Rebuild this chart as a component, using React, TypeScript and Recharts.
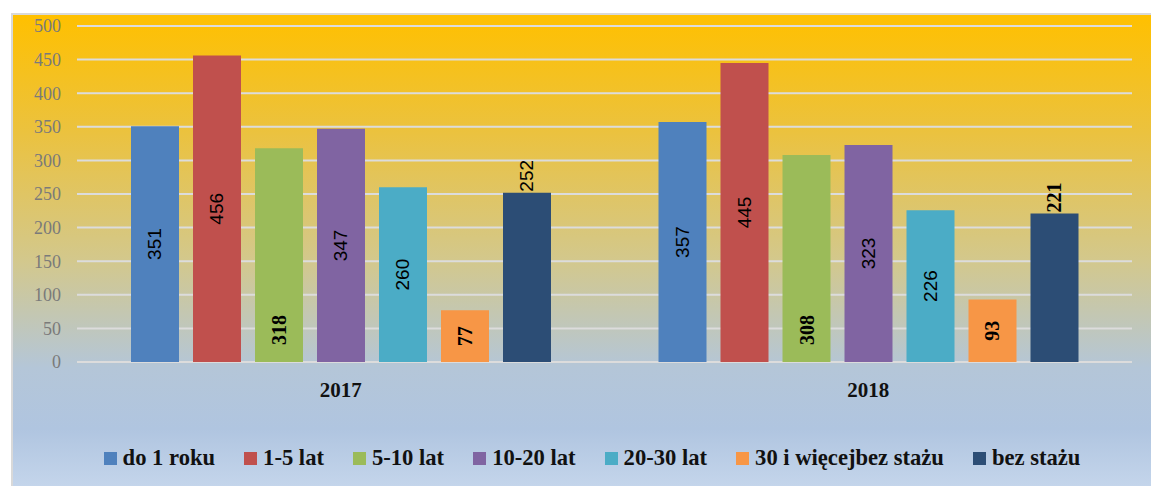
import { BarChart, Bar, XAxis, YAxis, CartesianGrid, Legend, LabelList } from "recharts";

const years = ["2017", "2018"];
const doRoku = [351, 357];
const lat1_5 = [456, 445];
const lat5_10 = [318, 308];
const lat10_20 = [347, 323];
const lat20_30 = [260, 226];
const lat30 = [77, 93];
const bezStazu = [252, 221];
const yTicks = [0, 50, 100, 150, 200, 250, 300, 350, 400, 450, 500];

const series = [
  { key: "a", name: "do 1 roku", values: doRoku, color: "#4F81BD" },
  { key: "b", name: "1-5 lat", values: lat1_5, color: "#C0504D" },
  { key: "c", name: "5-10 lat", values: lat5_10, color: "#9BBB59" },
  { key: "d", name: "10-20 lat", values: lat10_20, color: "#8064A2" },
  { key: "e", name: "20-30 lat", values: lat20_30, color: "#4BACC6" },
  { key: "f", name: "30 i więcejbez stażu", values: lat30, color: "#F79646" },
  { key: "g", name: "bez stażu", values: bezStazu, color: "#2C4D75" },
];

const data = years.map((y, i) => {
  const row: any = { year: y };
  series.forEach((s) => (row[s.key] = s.values[i]));
  return row;
});

// where each series puts its value label, and which face it uses per year
const labelLook: Record<string, { pos: "center" | "bottom" | "top"; serif: boolean[] }> = {
  a: { pos: "center", serif: [false, false] },
  b: { pos: "center", serif: [false, false] },
  c: { pos: "bottom", serif: [true, true] },
  d: { pos: "center", serif: [false, false] },
  e: { pos: "center", serif: [false, false] },
  f: { pos: "center", serif: [true, true] },
  g: { pos: "top", serif: [false, true] },
};

const SERIF = "Liberation Serif";
const SANS = "Liberation Sans";

function makeLabel(key: string) {
  return (props: any) => {
    const { x, y, width, height, value, index } = props;
    const look = labelLook[key];
    const serif = look.serif[index];
    const cx = x + width / 2;
    let cy = y + height / 2;
    let anchor = "middle";
    if (look.pos === "bottom") cy = y + height - 32;
    if (look.pos === "top") {
      cy = y - 1;
      anchor = "start";
    }
    return (
      <text
        x={cx}
        y={cy}
        transform={`rotate(-90 ${cx} ${cy})`}
        textAnchor={anchor}
        dominantBaseline="central"
        style={{ fontFamily: serif ? SERIF : SANS, fontWeight: serif ? 700 : 400, fontSize: serif ? 20 : 19 }}
        fill="#000"
      >
        {value}
      </text>
    );
  };
}

function LegendBox() {
  return (
    <div style={{ display: "flex", justifyContent: "center", alignItems: "center", height: 40, paddingLeft: 68 }}>
      {series.map((s) => (
        <div key={s.key} style={{ display: "flex", alignItems: "center", marginRight: 29 }}>
          <span style={{ width: 13, height: 13, background: s.color, display: "inline-block", marginRight: 6 }} />
          <span style={{ fontFamily: SERIF, fontWeight: 700, fontSize: 22.6, color: "#111" }}>{s.name}</span>
        </div>
      ))}
    </div>
  );
}

export default function App() {
  return (
    <div
      style={{
        position: "absolute",
        left: 11,
        top: 13,
        width: 1140,
        height: 473,
        boxSizing: "border-box",
        borderTop: "2px solid #d9d9d9",
        borderLeft: "2px solid #d9d9d9",
        background: "linear-gradient(to bottom, #FFC000 0%, #EBC23F 25%, #D3C88C 52%, #B4C6D8 75%, #B0C5E0 88%, #C4D5EB 100%)",
      }}
    >
      <BarChart
        width={1138}
        height={471}
        data={data}
        margin={{ top: 11, right: 19, left: 0, bottom: 8 }}
        barGap={14}
        barCategoryGap={54}
      >
        <CartesianGrid vertical={false} stroke="#dcdcdc" strokeWidth={2} />
        <XAxis
          dataKey="year"
          height={76}
          axisLine={false}
          tickLine={false}
          tickSize={0}
          tickMargin={20}
          tick={{ style: { fontFamily: SERIF, fontWeight: 700, fontSize: 21 }, fill: "#111" }}
        />
        <YAxis
          width={64}
          domain={[0, 500]}
          ticks={yTicks}
          interval={0}
          axisLine={false}
          tickLine={false}
          tickSize={0}
          tickMargin={16}
          tick={{ style: { fontFamily: SERIF, fontSize: 18 }, fill: "#7a7a7a" }}
        />
        <Legend verticalAlign="bottom" height={40} content={<LegendBox />} />
        {series.map((s) => (
          <Bar key={s.key} dataKey={s.key} name={s.name} fill={s.color} isAnimationActive={false}>
            <LabelList dataKey={s.key} content={makeLabel(s.key)} />
          </Bar>
        ))}
      </BarChart>
    </div>
  );
}
